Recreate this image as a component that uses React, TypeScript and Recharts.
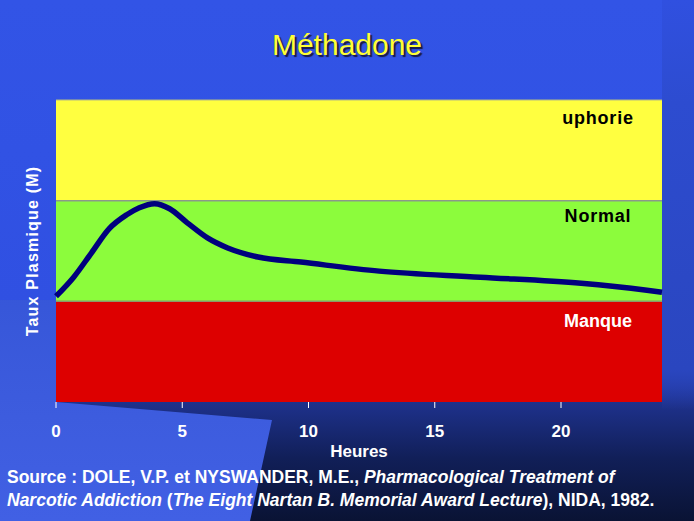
import {
  ComposedChart,
  Line,
  XAxis,
  YAxis,
  ReferenceArea,
  ReferenceLine,
} from 'recharts';

// hours after dose
const hours = [0, 0.7, 1.4, 2.1, 2.8, 3.3, 3.9, 4.5, 5.2, 6, 6.8, 8, 9.7, 12.8, 16.8, 20.8, 23.4, 24];
// plasma level, 0-1 manque, 1-2 normal, 2-3 euphorie
const level = [1.05, 1.24, 1.48, 1.72, 1.86, 1.93, 1.97, 1.92, 1.78, 1.63, 1.53, 1.44, 1.39, 1.3, 1.24, 1.18, 1.11, 1.09];
const xTicks = [0, 5, 10, 15, 20];

const bands = [
  { from: 0, to: 1, fill: '#dd0000', label: 'Manque', color: '#ffffff' },
  { from: 1, to: 2, fill: '#8cfc3c', label: 'Normal', color: '#000000' },
  { from: 2, to: 3, fill: '#ffff40', label: 'uphorie', color: '#000000' },
];

const W = 694;
const H = 521;
const font = '"Liberation Sans", Arial, sans-serif';

export default function App() {
  const data = hours.map((h, i) => ({ h, v: level[i] }));

  return (
    <div
      style={{
        position: 'absolute',
        left: 0,
        top: 0,
        width: W,
        height: H,
        overflow: 'hidden',
        fontFamily: font,
        background:
          'linear-gradient(180deg, #3254e6 0%, #3050e2 58%, #22379c 74%, #111f58 88%, #0a1334 100%)',
      }}
    >
      {/* lighter wedge bottom-left, darker strip right of the plot */}
      <div
        style={{
          position: 'absolute',
          inset: 0,
          background: 'linear-gradient(180deg, #3656d8 55%, #3d5cde 80%, #4160e4 100%)',
          clipPath: 'polygon(0px 300px, 56px 300px, 56px 402px, 272px 420px, 250px 521px, 0px 521px)',
        }}
      />
      <div
        style={{
          position: 'absolute',
          left: 662,
          top: 0,
          width: 32,
          height: 410,
          background: 'linear-gradient(180deg, #3050e0 0%, #2d4cd0 25%, #2a46bf 90%, rgba(42,70,191,0) 100%)',
        }}
      />

      <div
        style={{
          position: 'absolute',
          left: 0,
          width: W,
          top: 28,
          textAlign: 'center',
          fontSize: 30,
          color: '#ffff33',
          textShadow: '2px 2px 1px #1a1a40',
        }}
      >
        Méthadone
      </div>

      <ComposedChart
        width={W}
        height={H}
        data={data}
        margin={{ top: 100, right: 32, left: 56, bottom: 89 }}
        style={{ position: 'absolute', left: 0, top: 0 }}
      >
        <YAxis type="number" domain={[0, 3]} hide />
        <XAxis
          dataKey="h"
          type="number"
          domain={[0, 24]}
          ticks={xTicks}
          height={30}
          axisLine={false}
          tickLine={{ stroke: '#ffffff', strokeWidth: 1 }}
          tickSize={6}
          tickMargin={17}
          tick={{ fill: '#ffffff', fontSize: 17, fontWeight: 700, fontFamily: font }}
        />
        {bands.map((b) => (
          <ReferenceArea
            key={b.label}
            y1={b.from}
            y2={b.to}
            fill={b.fill}
            fillOpacity={1}
            stroke="none"
            ifOverflow="hidden"
          />
        ))}
        <ReferenceLine y={1} stroke="#8a9a6a" strokeWidth={1.5} />
        <ReferenceLine y={2} stroke="#8a9a8a" strokeWidth={1.5} />
        <ReferenceLine y={3} stroke="#b8bc80" strokeWidth={1} />
        <Line
          dataKey="v"
          type="monotone"
          stroke="#00007e"
          strokeWidth={5.5}
          dot={false}
          isAnimationActive={false}
        />
      </ComposedChart>

      {bands.map((b, i) => (
        <div
          key={b.label}
          style={{
            position: 'absolute',
            left: 548,
            width: 100,
            top: [311, 206, 108][i],
            textAlign: 'center',
            fontSize: 18,
            fontWeight: 700,
            letterSpacing: i === 0 ? 0 : 0.8,
            color: b.color,
          }}
        >
          {b.label}
        </div>
      ))}

      <div
        style={{
          position: 'absolute',
          left: 33,
          top: 251,
          transform: 'translate(-50%, -50%) rotate(-90deg)',
          whiteSpace: 'nowrap',
          fontSize: 16,
          fontWeight: 700,
          letterSpacing: 1.2,
          color: '#ffffff',
        }}
      >
        Taux Plasmique (M)
      </div>

      <div
        style={{
          position: 'absolute',
          left: 56,
          width: 606,
          top: 442,
          textAlign: 'center',
          fontSize: 17,
          fontWeight: 700,
          color: '#ffffff',
        }}
      >
        Heures
      </div>

      <div
        style={{
          position: 'absolute',
          left: 7,
          top: 466,
          fontSize: 17.5,
          lineHeight: '23px',
          fontWeight: 700,
          color: '#ffffff',
          whiteSpace: 'nowrap',
        }}
      >
        Source : DOLE, V.P. et NYSWANDER, M.E., <i>Pharmacological Treatment of</i>
        <br />
        <i>Narcotic Addiction</i> (<i>The Eight Nartan B. Memorial Award Lecture</i>), NIDA, 1982.
      </div>
    </div>
  );
}
